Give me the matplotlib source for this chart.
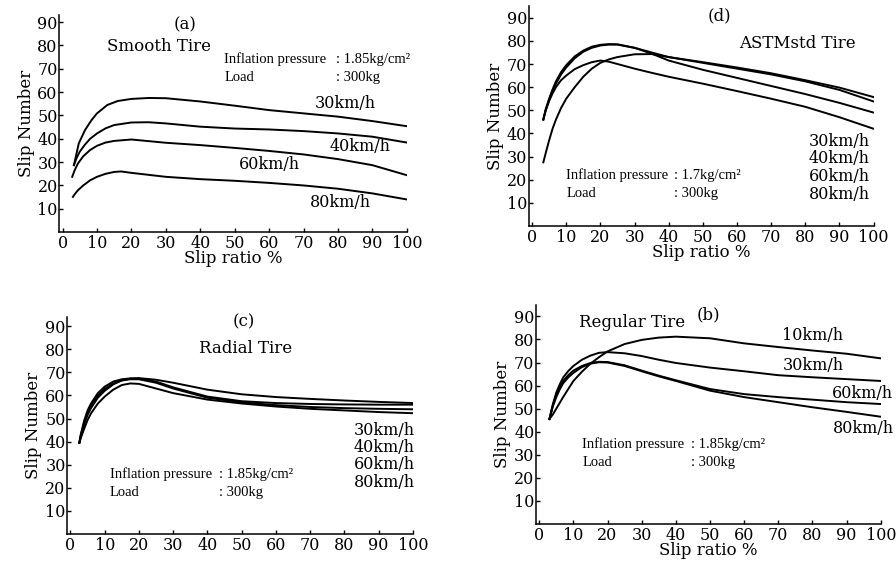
import matplotlib
matplotlib.use("Agg")
import matplotlib.pyplot as plt

plt.rcParams['font.family'] = ['DejaVu Serif']

# ---- (a) Smooth Tire ----
a_x30 = [3.3, 3.8, 4.7, 6.5, 8.4, 10, 13, 16, 20, 25, 30, 40, 50, 60, 70, 80, 90, 100]
a_y30 = [28.7, 32, 38, 43.7, 48, 50.9, 54.5, 56.2, 57.1, 57.5, 57.4, 56, 54.2, 52.3, 50.9, 49.5, 47.6, 45.4]
a_x40 = [3.3, 4, 5, 6.5, 8, 10, 12.5, 15, 20, 25, 30, 40, 50, 60, 70, 80, 90, 100]
a_y40 = [28.7, 31.5, 34.5, 37.5, 40, 42.3, 44.5, 45.9, 47, 47.1, 46.6, 45.2, 44.4, 44, 43.3, 42.3, 40.9, 38.4]
a_x60 = [2.8, 3.5, 4.5, 6, 8, 10, 12.5, 15, 20, 30, 40, 50, 60, 70, 80, 90, 100]
a_y60 = [23.7, 26.5, 29.5, 32.5, 35.2, 37, 38.4, 39.1, 39.7, 38.3, 37.3, 36.1, 34.8, 33.3, 31.3, 28.7, 24.4]
a_x80 = [3, 3.5, 4.5, 6, 8, 10, 12.5, 15, 17, 20, 30, 40, 50, 60, 70, 80, 90, 100]
a_y80 = [15.1, 16.2, 18, 20, 22.2, 23.7, 25, 25.8, 26, 25.4, 23.7, 22.7, 22, 21.1, 20, 18.6, 16.6, 14]

# ---- (d) ASTMstd Tire ----
d_x = [3.3, 4, 5, 6, 7, 8.5, 10, 12.5, 15, 17.5, 20, 22.5, 25, 30, 35, 40, 50, 60, 70, 80, 90, 100]
d_y30 = [27.5, 31.5, 37, 42, 46, 51, 55, 60, 64.5, 68, 70.5, 72, 73, 74.2, 74.3, 73, 70.8, 68.5, 66, 63, 59.8, 55.7]
d_y40 = [46, 50, 54.5, 58.5, 61.5, 65.5, 68.5, 72.5, 75.3, 77, 78, 78.4, 78.4, 77, 75, 73, 70.5, 68, 65.5, 62.5, 58.8, 53.8]
d_y60 = [46, 50.5, 55, 59, 62.5, 66.5, 69.5, 73.3, 75.8, 77.5, 78.3, 78.6, 78.5, 77, 74.5, 71.5, 67.5, 64, 60.5, 57, 53.2, 49]
d_y80 = [46, 50, 54, 57.3, 60, 63, 65, 67.8, 69.5, 70.8, 71.5, 71, 70, 68, 66.2, 64.5, 61.5, 58.3, 55, 51.5, 47, 42]

# ---- (c) Radial Tire ----
c_x = [2.6, 3, 4, 5, 6, 8, 10, 12.5, 15, 17.5, 20, 25, 30, 40, 50, 60, 70, 80, 90, 100]
c_y30 = [39.5, 42, 47.5, 51.5, 54.5, 59, 62, 64.8, 66.5, 67.3, 67.5, 66.8, 65.5, 62.5, 60.5, 59.3, 58.5, 57.8, 57.2, 56.7]
c_y40 = [39.5, 43, 49, 53.5, 56.5, 61, 63.8, 66, 67, 67.4, 67.3, 66, 63.5, 59.5, 57.5, 56.7, 56.3, 56.1, 56, 56]
c_y60 = [39.5, 42.5, 48.2, 52.5, 55.5, 60, 62.8, 65.2, 66.5, 67, 67, 65.5, 63, 59, 57, 55.8, 55, 54.5, 54.2, 54]
c_y80 = [39.5, 41.5, 45.5, 49.3, 52.2, 56.5, 59.5, 62.5, 64.5, 65.2, 65, 63, 61, 58.2, 56.5, 55.2, 54.2, 53.5, 52.8, 52.3]

# ---- (b) Regular Tire ----
b_x = [3, 4, 5, 6, 7, 8.5, 10, 12.5, 15, 17.5, 20, 25, 30, 35, 40, 50, 60, 70, 80, 90, 100]
b_y10 = [45.5, 47.5, 50, 52.5, 55, 58.5, 62, 66, 69.5, 72.3, 74.8, 78, 79.8, 80.8, 81.2, 80.5, 78.3, 76.7, 75.2, 73.8, 71.8]
b_y30 = [45.5, 52, 57, 60.5, 63.5, 66.3, 68.5, 71.2, 73, 74.2, 74.5, 74, 72.8, 71.2, 69.8, 67.8, 66.2, 64.5, 63.6, 62.8, 62]
b_y60 = [45.5, 51.5, 56, 59.3, 62, 64.5, 66.5, 68.5, 69.8, 70.3, 70.2, 68.8, 66.5, 64.3, 62.3, 58.5, 56.3, 55, 53.9, 52.8, 52]
b_y80 = [45.5, 51, 55, 58.3, 61, 63.5, 65.5, 68, 69.5, 70.1, 70, 68.5, 66.2, 64, 62, 57.8, 55, 52.8, 50.6, 48.6, 46.5]

xticks = list(range(0, 101, 10))
yticks = list(range(10, 91, 10))

fig = plt.figure(figsize=(8.96, 5.62), dpi=100)

def setup(ax, ytop, xlabel=True):
    ax.set_xlim(-1, 100)
    ax.set_ylim(0, ytop)
    ax.set_xticks(xticks)
    ax.set_yticks(yticks)
    ax.tick_params(direction='in', length=3, width=1, labelsize=11.5, pad=2)
    ax.tick_params(axis='y', pad=1)
    for s in ['top', 'right']:
        ax.spines[s].set_visible(False)
    for s in ['left', 'bottom']:
        ax.spines[s].set_linewidth(1.1)
    ax.set_ylabel('Slip Number', fontsize=12, labelpad=2)
    if xlabel:
        ax.set_xlabel('Slip ratio %', fontsize=12, labelpad=-1)
    ax.patch.set_alpha(0)

def cond(ax, x, y, xc, press):
    kw = dict(fontsize=10.5, family='Liberation Serif')
    ax.text(x, y, 'Inflation pressure', **kw)
    ax.text(x, y - 7.8, 'Load', **kw)
    ax.text(xc, y, ': ' + press, **kw)
    ax.text(xc, y - 7.8, ': 300kg', **kw)

lw = 1.4

# (a)
ax = fig.add_axes([0.066, 0.587, 0.388, 0.386])
setup(ax, 93)
for xs, ys in [(a_x30, a_y30), (a_x40, a_y40), (a_x60, a_y60), (a_x80, a_y80)]:
    ax.plot(xs, ys, color='black', lw=lw)
ax.text(35.5, 89, '(a)', ha='center', va='center', fontsize=12)
ax.text(28, 79.6, 'Smooth Tire', ha='center', va='center', fontsize=12)
cond(ax, 47, 72.5, 79.5, '1.85kg/cm²')
ax.text(82, 55, '30km/h', ha='center', va='center', fontsize=11.5)
ax.text(86.5, 36.6, '40km/h', ha='center', va='center', fontsize=11.5)
ax.text(60, 28.8, '60km/h', ha='center', va='center', fontsize=11.5)
ax.text(80.7, 12.5, '80km/h', ha='center', va='center', fontsize=11.5)

# (d)
ax = fig.add_axes([0.590, 0.598, 0.385, 0.391])
setup(ax, 95)
for ys in [d_y30, d_y40, d_y60, d_y80]:
    ax.plot(d_x, ys, color='black', lw=lw)
ax.text(54.8, 90.8, '(d)', ha='center', va='center', fontsize=12)
ax.text(77.7, 78.7, 'ASTMstd Tire', ha='center', va='center', fontsize=12)
cond(ax, 10, 20.5, 41.6, '1.7kg/cm²')
for lab, yy in zip(['30km/h', '40km/h', '60km/h', '80km/h'], [36.6, 29.2, 21.2, 13.8]):
    ax.text(81, yy, lab, ha='left', va='center', fontsize=11.5)

# (c)
ax = fig.add_axes([0.0748, 0.050, 0.386, 0.386])
setup(ax, 94, xlabel=False)
for ys in [c_y30, c_y40, c_y60, c_y80]:
    ax.plot(c_x, ys, color='black', lw=lw)
ax.text(50.6, 92, '(c)', ha='center', va='center', fontsize=12)
ax.text(51, 80.4, 'Radial Tire', ha='center', va='center', fontsize=12)
cond(ax, 11.5, 24.3, 43.3, '1.85kg/cm²')
for lab, yy in zip(['30km/h', '40km/h', '60km/h', '80km/h'], [44.9, 37.4, 30, 22.2]):
    ax.text(82.7, yy, lab, ha='left', va='center', fontsize=11.5)

# (b)
ax = fig.add_axes([0.598, 0.0676, 0.385, 0.390])
setup(ax, 95)
for ys in [b_y10, b_y30, b_y60, b_y80]:
    ax.plot(b_x, ys, color='black', lw=lw)
ax.text(27.2, 87.4, 'Regular Tire', ha='center', va='center', fontsize=12)
ax.text(49.6, 90.5, '(b)', ha='center', va='center', fontsize=12)
cond(ax, 12.6, 32.8, 44.5, '1.85kg/cm²')
ax.text(71.2, 81.8, '10km/h', ha='left', va='center', fontsize=11.5)
ax.text(71.2, 68.8, '30km/h', ha='left', va='center', fontsize=11.5)
ax.text(85.7, 56.6, '60km/h', ha='left', va='center', fontsize=11.5)
ax.text(86, 41.4, '80km/h', ha='left', va='center', fontsize=11.5)

fig.savefig('out.png', dpi=100)
